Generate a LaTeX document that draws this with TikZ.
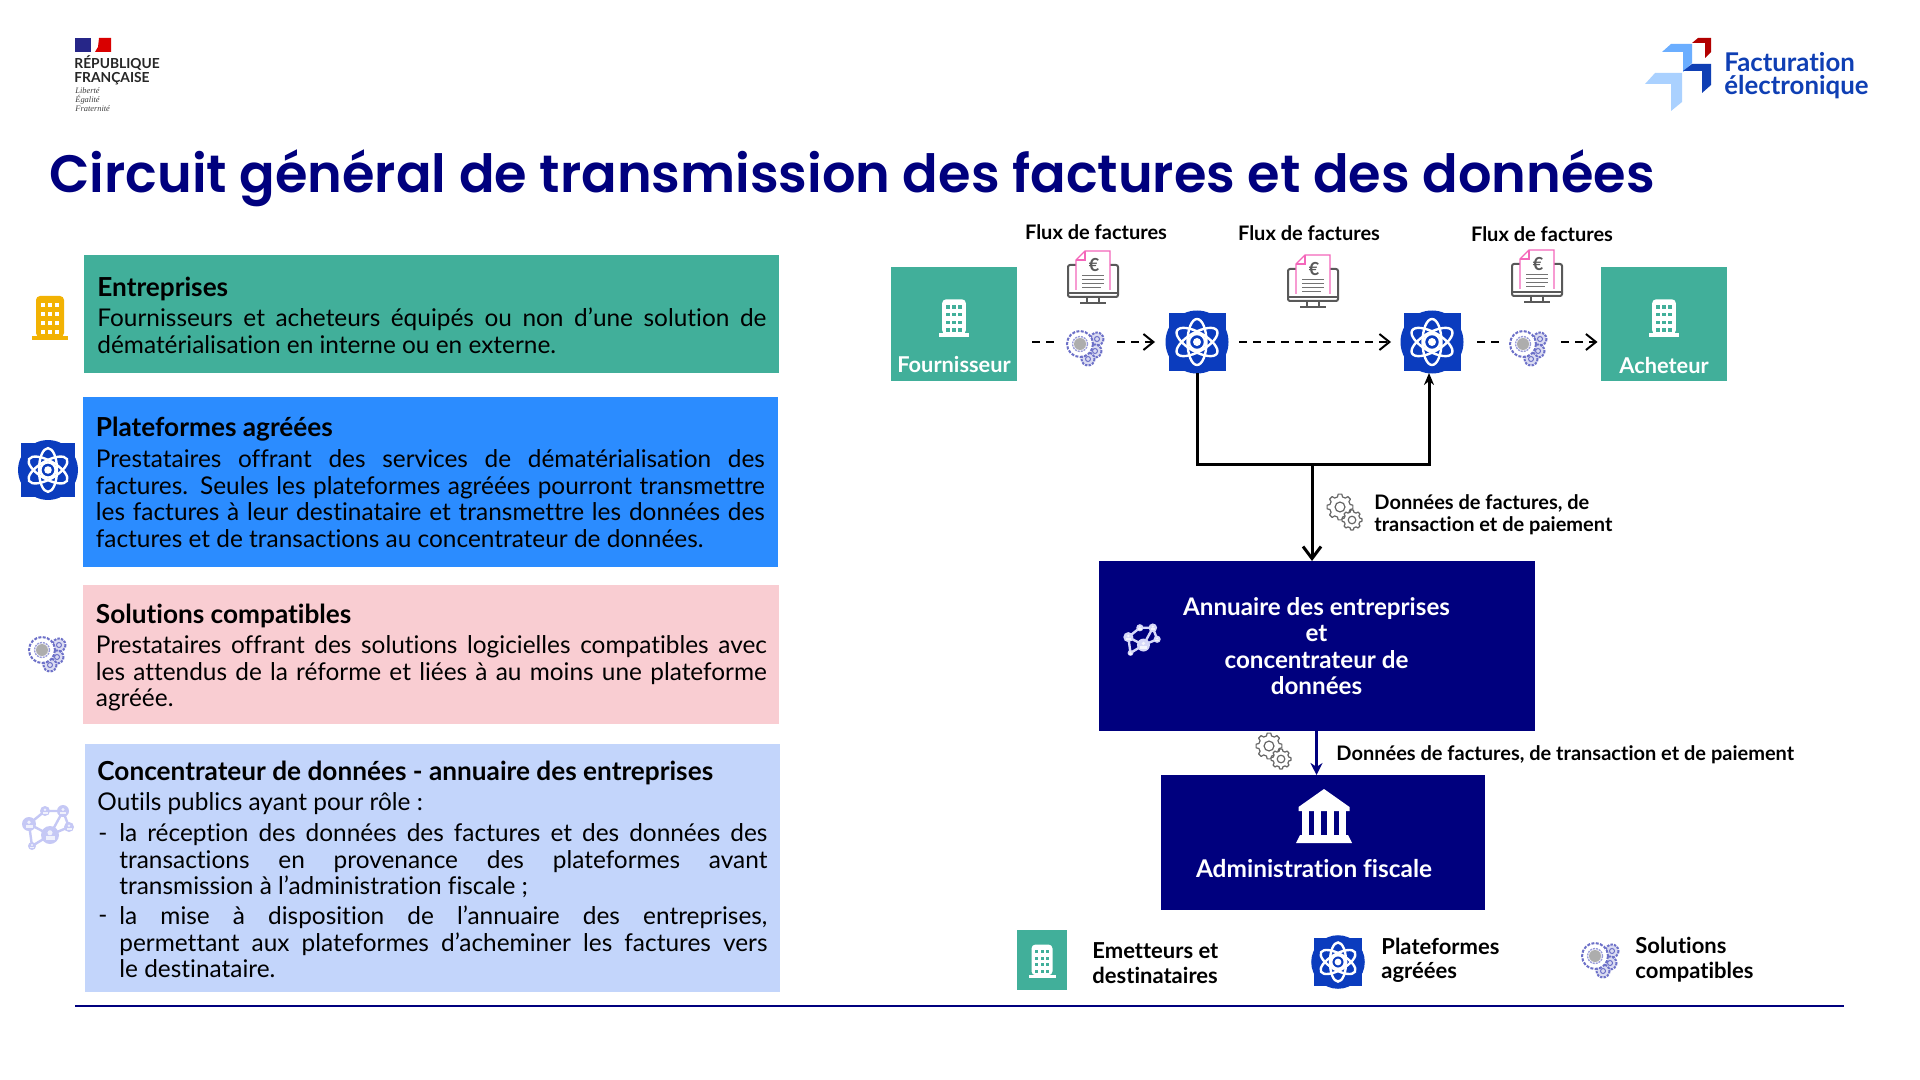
\documentclass[tikz,border=0pt]{standalone}
\usepackage{xcolor}
\usepackage{fontspec}
\setmainfont{Lato}[Ligatures=NoCommon]
\newfontfamily\titrefont{Poppins SemiBold}
\newfontfamily\rffont{Liberation Serif}
\usetikzlibrary{arrows.meta, positioning, calc}
\definecolor{marine}{HTML}{00007E}
\definecolor{sarcelle}{HTML}{41AF9A}
\definecolor{azur}{HTML}{2B8CFF}
\definecolor{rosepale}{HTML}{F9CDD2}
\definecolor{lavande}{HTML}{C3D5FB}
\definecolor{ambre}{HTML}{F2B203}
\definecolor{atomeb}{HTML}{0B3CBE}
\definecolor{violet}{HTML}{6C70C8}
\definecolor{mauve}{HTML}{C5C8F5}
\definecolor{logob}{HTML}{0F3FB4}

\begin{document}
\begin{tikzpicture}[
    x=0.5pt, y=-0.5pt,
    font=\fontsize{12.2}{13.25}\selectfont,
    panneau/.style={anchor=north west, inner sep=0pt, outer sep=0pt},
    titre/.style={anchor=west, inner sep=0pt, font=\fontsize{13.1}{14}\selectfont\bfseries},
    corps/.style={anchor=north west, inner sep=0pt, align=justify, text width=#1},
    tiret/.style={anchor=north west, inner sep=0pt, text height=9pt},
    entite/.style={fill=sarcelle, minimum width=63pt, minimum height=57pt, inner sep=0pt, outer sep=0pt},
    nomblanc/.style={text=white, inner sep=0pt, font=\fontsize{10.9}{12}\selectfont\bfseries},
    flux/.style={inner sep=0pt, font=\fontsize{10}{11}\selectfont\bfseries},
    note/.style={anchor=west, inner sep=0pt, align=left, font=\fontsize{10}{11}\selectfont\bfseries},
    legende/.style={anchor=west, inner sep=0pt, align=left, font=\fontsize{11}{12.2}\selectfont\bfseries},
    boite/.style={fill=marine, inner sep=0pt, outer sep=0pt, text=white},
    ancre/.style={inner sep=0pt, outer sep=0pt, minimum size=#1},
    tireflux/.style={black, line width=1pt, dash pattern=on 4pt off 3pt},
    pics/immeuble/.style 2 args={code={
      \fill[#1, rounded corners=2pt] (-14,19) -- (-14,-22) -- (14,-22) -- (14,19) -- cycle;
      \fill[#1] (-18,18) rectangle (18,22);
      \foreach \ligne in {-13,-4,5,14}
        \foreach \col in {-7,0,7}
          \fill[#2] (\col-2,\ligne-2) rectangle (\col+2,\ligne+2);
    }},
    pics/atome/.style={code={
      \fill[atomeb] (-28.5,-28.5) rectangle (28.5,28.5);
      \fill[atomeb] (0,0) circle (31.5);
      \foreach \ang in {0,60,-60}
        \draw[white, line width=1.2pt, rotate=\ang] (0,0) ellipse (9.5 and 23);
      \draw[white, line width=1.2pt] (0,0) circle (8);
      \fill[white] (0,0) circle (4);
    }},
    pics/roue/.style={code={
      \filldraw[#1, fill=white, line width=.6pt, line join=round] (-14:8)
        \foreach \a in {0,45,...,315} { -- (\a-14:8) -- (\a-8:10) -- (\a+8:10) -- (\a+14:8) } -- cycle;
      \draw[#1, line width=.6pt] (0,0) circle (3.8);
    }},
    pics/engrenages/.style={code={
      \pic[scale=1.3] at (-6,-6) {roue=black!60};
      \pic[scale=1] at (6,7) {roue=black!60};
    }},
    pics/solution/.style={code={
      \foreach \cx/\cy in {12/-7,10/5,3/13} {
        \draw[violet, line width=1pt, dash pattern=on 1.2pt off .6pt, fill=violet!25] (\cx,\cy) circle (6.5);
        \draw[violet, line width=.5pt] (\cx,\cy) circle (2.5);
      }
      \fill[white] (-5,-2) circle (13);
      \draw[violet, line width=1pt, dash pattern=on 1.5pt off .7pt] (-5,-2) circle (13);
      \fill[black!40, opacity=.8] (-5,-2) circle (6);
      \draw[violet!70, line width=.7pt, dash pattern=on 1pt off .5pt] (-5,-2) circle (7.5);
    }},
    pics/reseau/.style={code={
      \draw[#1, line width=1.2pt] (-3,-17) -- (15,-17) -- (21,-1) -- (2,7) -- (-19,-4) -- cycle
        (15,-17) -- (2,7) (-19,-4) -- (-16,18) -- (2,7);
      \foreach \cx/\cy/\r in {-3/-17/5,15/-17/6,-19/-4/7,21/-1/5,2/7/9,-16/18/4} {
        \fill[#1] (\cx,\cy) circle (\r);
        \fill[white, opacity=.75] (\cx,\cy-.25*\r) circle (.28*\r);
        \fill[white, opacity=.75] (\cx-.5*\r,\cy+.55*\r) rectangle (\cx+.5*\r,\cy+.15*\r);
      }
    }},
    pics/facture/.style={code={
      \draw[black!65, line width=1pt, rounded corners=1pt] (-25,-13) rectangle (25,19);
      \draw[black!65, line width=1pt] (-25,15) -- (25,15) (-6,19) -- (-6,25) (6,19) -- (6,25) (-13,25) -- (13,25);
      \filldraw[fill=white, draw=magenta!60, line width=.6pt] (-17,12) -- (-17,-18) -- (-8,-27) -- (17,-27) -- (17,12);
      \draw[magenta!60, line width=.6pt] (-17,-18) -- (-8,-18) -- (-8,-27);
      \node[inner sep=0pt, text=black!65, font=\fontsize{9}{9}\selectfont\bfseries] (-euro) at (1,-13) {€};
      \foreach \ligne in {-3,1,5}
        \draw[black!55, line width=.45pt] (-11,\ligne) -- (11,\ligne);
      \draw[black!55, line width=.45pt] (-11,9) -- (8,9);
    }},
    pics/banque/.style={code={
      \fill[white] (0,-28) -- (25.5,-10) -- (25.5,-6) -- (-25.5,-6) -- (-25.5,-10) -- cycle;
      \foreach \col in {-18.5,-6.3,6.3,18.5}
        \fill[white] (\col-3.3,-6) rectangle (\col+3.3,18);
      \fill[white] (-24,18) -- (24,18) -- (28,26) -- (-28,26) -- cycle;
    }}
  ]
    \useasboundingbox (0,0) rectangle (1920,1080);
    \fill[white] (0,0) rectangle (1920,1080);

    % logos
    \fill[blue!45!black!85!white] (75,38) rectangle (91,52);
    \fill[red!85!black] (99,38) -- (111,38) -- (111,52) -- (95,52) -- (98,47) -- cycle;
    \node[anchor=west, inner sep=0pt, align=left, text=black!85, font=\fontsize{6.9}{7.1}\selectfont\bfseries] (rf) at (74,70) {RÉPUBLIQUE\\FRANÇAISE};
    \node[anchor=north west, inner sep=0pt, align=left, text=black!75, font=\fontsize{4.2}{4.5}\selectfont\rffont\itshape] (devise) at (75,87) {Liberté\\Égalité\\Fraternité};
    \fill[red!70!black] (1692,43) -- (1698,38) -- (1711,38) -- (1711,52) -- (1705,58) -- (1705,43) -- cycle;
    \fill[azur!70!white] (1662,52) -- (1671,44) -- (1692,44) -- (1692,63) -- (1683,72) -- (1683,52) -- cycle;
    \fill[logob] (1683,71) -- (1692,64) -- (1711,64) -- (1711,85) -- (1702,93) -- (1702,71) -- cycle;
    \fill[azur!40!white] (1645,84) -- (1655,73) -- (1682,73) -- (1682,102) -- (1671,111) -- (1671,84) -- cycle;
    \node[anchor=west, inner sep=0pt, align=left, text=logob, font=\fontsize{12.9}{11.6}\selectfont\bfseries] (fe) at (1724,76) {Facturation\\électronique};

    \node[anchor=west, inner sep=0pt, text=marine, font=\fontsize{26.3}{30}\selectfont\titrefont] (titregeneral) at (49,178) {Circuit général de transmission des factures et des données};

    % panneaux de gauche
    \node[panneau, fill=sarcelle, minimum width=347.5pt, minimum height=59pt] (entreprises) at (84,255) {};
    \node[panneau, fill=azur, minimum width=347.5pt, minimum height=85pt] (plateformes) at (83,397) {};
    \node[panneau, fill=rosepale, minimum width=348pt, minimum height=69.5pt] (solutions) at (83,585) {};
    \node[panneau, fill=lavande, minimum width=347.5pt, minimum height=124pt] (concentrateur) at (85,744) {};

    \node[titre] (t1) at (97,288.5) {Entreprises};
    \node[corps=334.5pt] (c1) at (97,307.5) {Fournisseurs et acheteurs équipés ou non d’une solution de\linebreak dématérialisation en interne ou en externe.};
    \node[titre] (t2) at (95.5,429.5) {Plateformes agréées};
    \node[corps=334.5pt] (c2) at (95.5,449.5) {Prestataires offrant des services de dématérialisation des\linebreak factures. Seules les plateformes agréées pourront transmettre\linebreak les factures à leur destinataire et transmettre les données des\linebreak factures et de transactions au concentrateur de données.};
    \node[titre] (t3) at (95.5,615.5) {Solutions compatibles};
    \node[corps=335.5pt] (c3) at (95.5,635.5) {Prestataires offrant des solutions logicielles compatibles avec\linebreak les attendus de la réforme et liées à au moins une plateforme\linebreak agréée.};
    \node[titre] (t4) at (97,772.5) {Concentrateur de données - annuaire des entreprises};
    \node[corps=334.5pt] (c4) at (97,792.5) {Outils publics ayant pour rôle :};
    \node[tiret] (d1) at (98,823.5) {-};
    \node[corps=324pt] (c5) at (119,823.5) {la réception des données des factures et des données des\linebreak transactions en provenance des plateformes avant\linebreak transmission à l’administration fiscale ;};
    \node[tiret] (d2) at (98,905.5) {-};
    \node[corps=324pt] (c6) at (119,905.5) {la mise à disposition de l’annuaire des entreprises,\linebreak permettant aux plateformes d’acheminer les factures vers\linebreak le destinataire.};

    \pic at (50,318) {immeuble={ambre}{white}};
    \pic[scale=.95] at (48,470) {atome};
    \pic at (47,652) {solution};
    \pic at (48,828) {reseau=mauve};

    % circuit
    \node[entite] (fournisseur) at (954,324) {};
    \node[entite] (acheteur) at (1663.5,324) {};
    \pic[scale=.85] at (954,318) {immeuble={white}{sarcelle}};
    \pic[scale=.85] at (1664,318) {immeuble={white}{sarcelle}};
    \node[nomblanc] (nomf) at (954,365) {Fournisseur};
    \node[nomblanc] (noma) at (1664,365) {Acheteur};

    \node[flux] (flux1) at (1096,232) {Flux de factures};
    \node[flux] (flux2) at (1309,233) {Flux de factures};
    \node[flux] (flux3) at (1542,234) {Flux de factures};
    \pic (f1) at (1093,278) {facture};
    \pic (f2) at (1313,282) {facture};
    \pic (f3) at (1537,277) {facture};

    \node[ancre=31pt] (pa1) at (1197,342) {};
    \node[ancre=31pt] (pa2) at (1432,342) {};
    \pic at (pa1) {atome};
    \pic at (pa2) {atome};
    \node[ancre=28pt] (sc1) at (1085,342) {};
    \node[ancre=28pt] (sc2) at (1528,342) {};
    \pic at (1085,346) {solution};
    \pic at (1528,346) {solution};

    \draw[tireflux, shorten <=7.5pt] (fournisseur.east |- sc1) -- (sc1);
    \draw[tireflux, -{Straight Barb[length=5pt,width=8pt]}, shorten <=2pt, shorten >=5.5pt] (sc1) -- (pa1);
    \draw[tireflux, -{Straight Barb[length=5pt,width=8pt]}, shorten <=5.5pt, shorten >=5pt] (pa1) -- (pa2);
    \draw[tireflux, shorten <=7pt] (pa2) -- (sc2);
    \draw[tireflux, -{Straight Barb[length=5pt,width=8pt]}, shorten <=2.5pt, shorten >=1.5pt] (sc2) -- (sc2 -| acheteur.west);

    \node[boite, minimum width=218pt, minimum height=85pt, align=center, font=\fontsize{12.1}{13.25}\selectfont\bfseries] (annuaire) at (1316.5,646) {Annuaire des entreprises\\et\\concentrateur de\\données};
    \node[boite, minimum width=162pt, minimum height=67.5pt] (admin) at (1323,842.5) {};
    \node[text=white, inner sep=0pt, font=\fontsize{12.2}{13}\selectfont\bfseries] (adminnom) at (1314,869) {Administration fiscale};
    \pic at (1324,817) {banque};
    \pic[scale=.72] at (1142,640) {reseau=mauve!70!white};

    \coordinate (jonction) at (1312,464);
    \coordinate (arrivee) at (1429,373);
    \draw[black, line width=1.5pt] (pa1.south) |- (jonction);
    \draw[black, line width=1.5pt, -{Stealth[length=6pt,width=5pt]}] (jonction) -| (arrivee);
    \draw[black, line width=1.5pt, -{Straight Barb[length=6pt,width=9pt]}] (jonction) -- (jonction |- annuaire.north);
    \draw[marine, line width=1.3pt, -{Stealth[length=6pt,width=6pt]}] (annuaire.south) -- (annuaire.south |- admin.north);

    \pic at (1346,513) {engrenages};
    \node[note] (note1) at (1374,515) {Données de factures, de\\transaction et de paiement};
    \pic at (1275,752) {engrenages};
    \node[note] (note2) at (1336,755) {Données de factures, de transaction et de paiement};

    % legende
    \node[entite, minimum width=25pt, minimum height=30pt] (legf) at (1042,960) {};
    \pic[scale=.75] at (1042,961) {immeuble={white}{sarcelle}};
    \node[legende] (leg1) at (1092,963) {Emetteurs et\\destinataires};
    \pic[scale=.85] at (1338,962) {atome};
    \node[legende] (leg2) at (1381,960.5) {Plateformes\\agréées};
    \pic at (1600,958) {solution};
    \node[legende] (leg3) at (1635,959.5) {Solutions\\compatibles};

    \coordinate (filetg) at (75,1006);
    \coordinate (filetd) at (1844,1006);
    \draw[marine, line width=1pt] (filetg) -- (filetd);
  \end{tikzpicture}
\end{document}
